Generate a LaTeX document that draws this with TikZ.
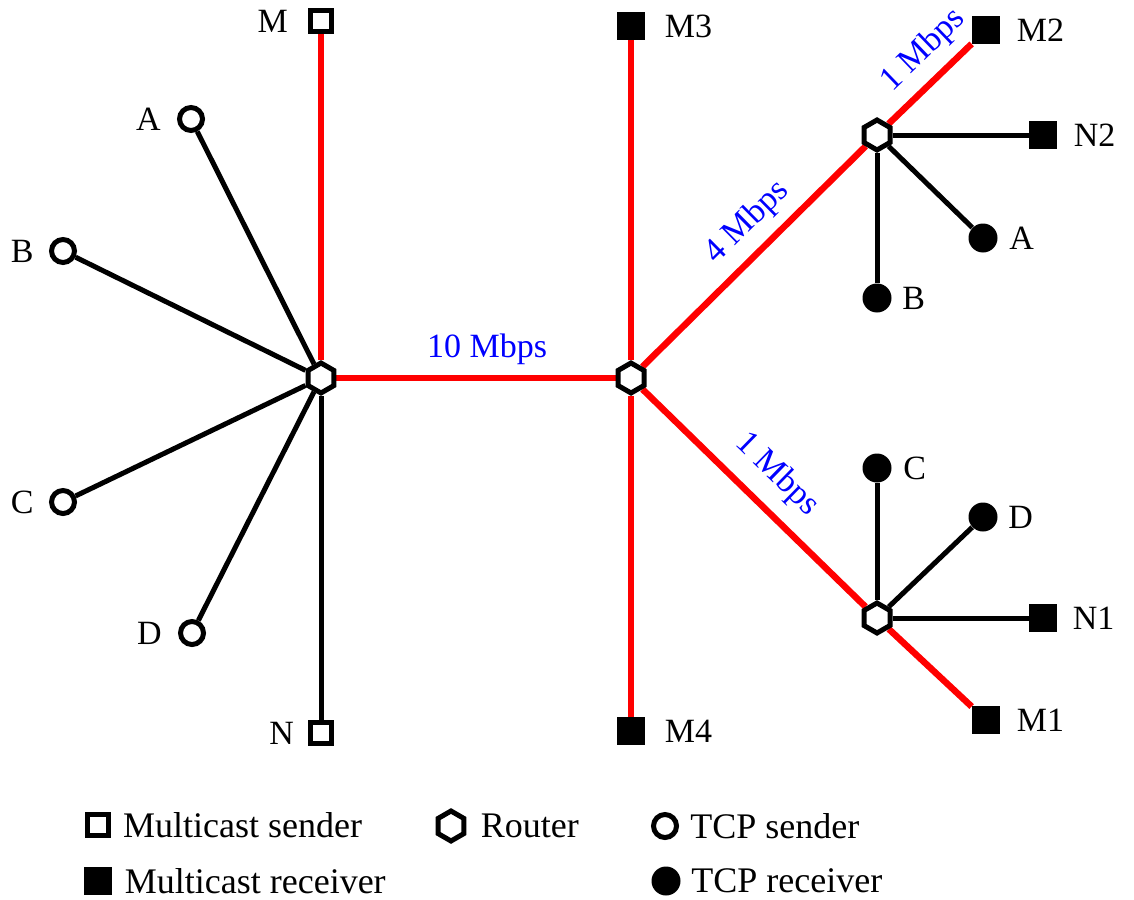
\documentclass[tikz,border=0pt]{standalone}
\usepackage{fontspec}
\setmainfont{Liberation Serif}
\usepackage{tikz}
\usetikzlibrary{shapes.geometric, positioning, backgrounds}
\definecolor{linkred}{RGB}{255,0,0}
\definecolor{rateblue}{RGB}{0,0,255}
\tikzset{
  router/.style={regular polygon, regular polygon sides=6, shape border rotate=30,
    draw=black, fill=white, line width=2.5pt, inner sep=0pt, minimum size=15pt},
  msend/.style={rectangle, draw=black, fill=white, line width=2.25pt,
    inner sep=0pt, minimum size=10.5pt},
  mrecv/.style={rectangle, fill=black, inner sep=0pt, minimum size=14pt},
  tsend/.style={circle, draw=black, fill=white, line width=2.5pt,
    inner sep=0pt, minimum size=11.5pt},
  trecv/.style={circle, fill=black, inner sep=0pt, minimum size=14.5pt},
  lbl/.style={font=\fontsize{17}{20}\selectfont, inner sep=0pt},
  legtext/.style={font=\fontsize{18}{21}\selectfont, inner sep=0pt},
  rate/.style={font=\fontsize{17}{20}\selectfont, text=rateblue, sloped, inner sep=0pt},
  redlink/.style={draw=linkred, line width=3.25pt},
  blklink/.style={draw=black, line width=2.5pt}
}

\begin{document}
\begin{tikzpicture}[x=0.5pt, y=-0.5pt]
  \useasboundingbox (0,0) rectangle (1134,899);

  % routers
  \node[router] (r1) at (321,378) {};
  \node[router] (r2) at (631,378) {};
  \node[router] (r3) at (877,135) {};
  \node[router] (r4) at (877,618) {};

  % left side hosts
  \node[msend] (m) at (321,21) {};
  \node[msend] (n) at (321,733) {};
  \node[tsend] (a) at (191,119) {};
  \node[tsend] (b) at (63,251) {};
  \node[tsend] (c) at (63,502) {};
  \node[tsend] (d) at (192,633) {};

  % right side hosts
  \node[mrecv] (m3) at (631,26) {};
  \node[mrecv] (m4) at (631,731) {};
  \node[mrecv] (m2) at (986,30) {};
  \node[mrecv] (n2) at (1043,135) {};
  \node[trecv] (ra) at (983,238) {};
  \node[trecv] (rb) at (877,298) {};
  \node[trecv] (rc) at (877,468) {};
  \node[trecv] (rd) at (983,517) {};
  \node[mrecv] (n1) at (1043,618) {};
  \node[mrecv] (m1) at (986,720) {};

  % host names
  \node[lbl, left=10pt of m] {M};
  \node[lbl, left=7pt of n] {N};
  \node[lbl, left=8pt of a] {A};
  \node[lbl, left=7.5pt of b] {B};
  \node[lbl, left=7.5pt of c] {C};
  \node[lbl, left=8pt of d] {D};
  \node[lbl, right=9.5pt of m3] {M3};
  \node[lbl, right=9.5pt of m4] {M4};
  \node[lbl, right=8pt of m2] {M2};
  \node[lbl, right=8pt of n2] {N2};
  \node[lbl, right=5.5pt of ra] {A};
  \node[lbl, right=5pt of rb] {B};
  \node[lbl, right=5.5pt of rc] {C};
  \node[lbl, right=5pt of rd] {D};
  \node[lbl, right=7.5pt of n1] {N1};
  \node[lbl, right=8pt of m1] {M1};

  % links
  \begin{pgfonlayer}{background}
    \draw[redlink] (r1) -- (m);
    \draw[redlink] (r1) -- node[rate, pos=0.54, above=5pt] {10 Mbps} (r2);
    \draw[redlink] (r2) -- (m3);
    \draw[redlink] (r2) -- (m4);
    \draw[redlink] (r2) -- node[rate, pos=0.56, above=5pt] {4 Mbps} (r3);
    \draw[redlink] (r3) -- node[rate, pos=0.66, above=5pt] {1 Mbps} (m2);
    \draw[redlink] (r2) -- node[rate, pos=0.5, above=7pt] {1 Mbps} (r4);
    \draw[redlink] (r4) -- (m1);
    \foreach \h in {a,b,c,d,n}
      \draw[blklink] (r1) -- (\h);
    \foreach \h in {n2,ra,rb}
      \draw[blklink] (r3) -- (\h);
    \foreach \h in {rc,rd,n1}
      \draw[blklink] (r4) -- (\h);
  \end{pgfonlayer}

  % legend
  \node[msend] (lms) at (98,825) {};
  \node[legtext, right=6pt of lms] {Multicast sender};
  \node[router] (lrt) at (451,826) {};
  \node[legtext, right=7pt of lrt] {Router};
  \node[tsend] (lts) at (665,826) {};
  \node[legtext, right=5.5pt of lts] {TCP sender};
  \node[mrecv] (lmr) at (98,881) {};
  \node[legtext, right=6pt of lmr] {Multicast receiver};
  \node[trecv] (ltr) at (666,881) {};
  \node[legtext, right=5pt of ltr] {TCP receiver};
\end{tikzpicture}
\end{document}
